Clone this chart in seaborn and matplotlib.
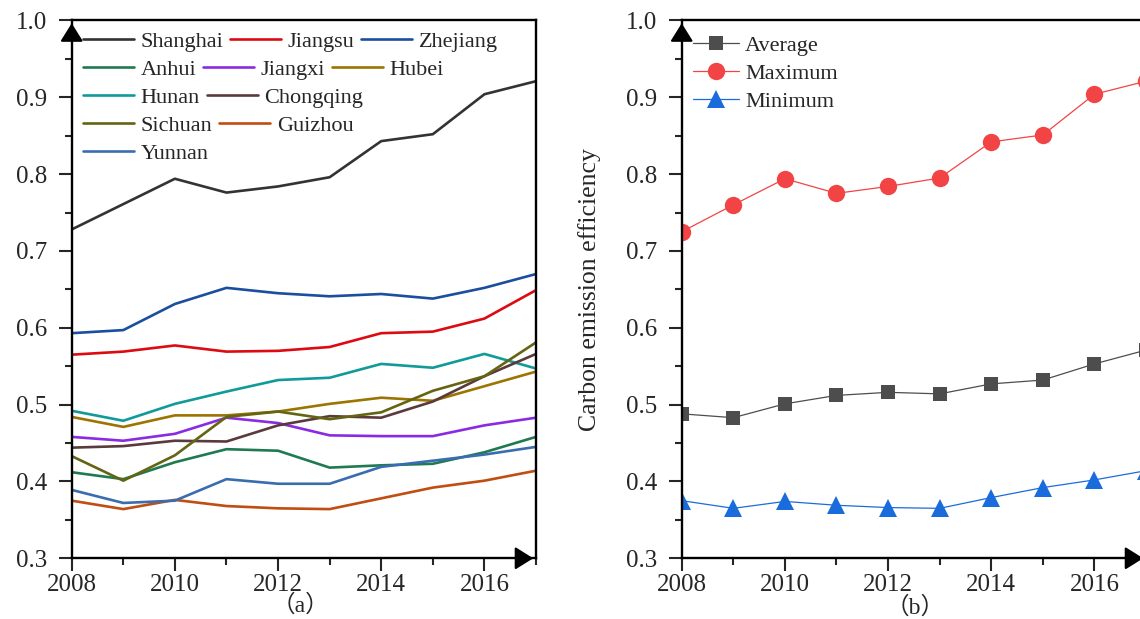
import pandas as pd
import seaborn as sns
import matplotlib.pyplot as plt
from matplotlib.lines import Line2D
from matplotlib.legend import Legend
from matplotlib.ticker import MultipleLocator, FormatStrFormatter

years = list(range(2008, 2018))

provinces = ['Shanghai', 'Jiangsu', 'Zhejiang', 'Anhui', 'Jiangxi', 'Hubei',
             'Hunan', 'Chongqing', 'Sichuan', 'Guizhou', 'Yunnan']

shanghai = [0.728, 0.761, 0.794, 0.776, 0.784, 0.796, 0.843, 0.852, 0.904, 0.921]
jiangsu = [0.565, 0.569, 0.577, 0.569, 0.570, 0.575, 0.593, 0.595, 0.612, 0.649]
zhejiang = [0.593, 0.597, 0.631, 0.652, 0.645, 0.641, 0.644, 0.638, 0.652, 0.670]
anhui = [0.412, 0.403, 0.425, 0.442, 0.440, 0.418, 0.421, 0.423, 0.438, 0.458]
jiangxi = [0.458, 0.453, 0.462, 0.483, 0.476, 0.460, 0.459, 0.459, 0.473, 0.483]
hubei = [0.484, 0.471, 0.486, 0.486, 0.491, 0.501, 0.509, 0.505, 0.524, 0.543]
hunan = [0.492, 0.479, 0.501, 0.517, 0.532, 0.535, 0.553, 0.548, 0.566, 0.547]
chongqing = [0.444, 0.446, 0.453, 0.452, 0.473, 0.485, 0.483, 0.504, 0.537, 0.566]
sichuan = [0.433, 0.401, 0.434, 0.484, 0.491, 0.481, 0.490, 0.518, 0.537, 0.581]
guizhou = [0.375, 0.364, 0.376, 0.368, 0.365, 0.364, 0.378, 0.392, 0.401, 0.414]
yunnan = [0.389, 0.372, 0.375, 0.403, 0.397, 0.397, 0.419, 0.427, 0.435, 0.445]

average = [0.488, 0.483, 0.501, 0.512, 0.516, 0.514, 0.527, 0.532, 0.553, 0.571]
maximum = [0.725, 0.760, 0.794, 0.775, 0.784, 0.795, 0.842, 0.851, 0.904, 0.921]
minimum = [0.375, 0.365, 0.374, 0.369, 0.366, 0.365, 0.379, 0.392, 0.402, 0.414]

colors = ['#333333', '#dd0a12', '#1a4e9e', '#1f7a50', '#8a2be2', '#9c7400',
          '#119a9a', '#5a3a3a', '#646412', '#c04d12', '#3a6db0']

series = [shanghai, jiangsu, zhejiang, anhui, jiangxi, hubei,
          hunan, chongqing, sichuan, guizhou, yunnan]

# legend rows as laid out in the original figure
legend_rows = [['Shanghai', 'Jiangsu', 'Zhejiang'],
               ['Anhui', 'Jiangxi', 'Hubei'],
               ['Hunan', 'Chongqing'],
               ['Sichuan', 'Guizhou'],
               ['Yunnan']]

df = pd.DataFrame({
    'year': years * len(provinces),
    'province': [p for p in provinces for _ in years],
    'value': [v for s in series for v in s],
})

sns.set_style('ticks')
plt.rcParams['font.family'] = ['Liberation Serif', 'Noto Sans CJK SC']
plt.rcParams['axes.linewidth'] = 1.7

fig = plt.figure(figsize=(11.4, 6.19), dpi=100)
ax1 = fig.add_axes([0.0629, 0.0981, 0.4073, 0.8688])
ax2 = fig.add_axes([0.598, 0.0981, 0.4073, 0.8688])

palette = dict(zip(provinces, colors))
sns.lineplot(data=df, x='year', y='value', hue='province', palette=palette,
             hue_order=provinces, linewidth=1.9, legend=False, ax=ax1)

sns.lineplot(x=years, y=average, color='#4d4d4d', marker='s', markersize=10.5,
             markeredgewidth=0, linewidth=0.9, ax=ax2)
sns.lineplot(x=years, y=maximum, color='#f24444', marker='o', markersize=12.5,
             markeredgewidth=0, linewidth=0.9, ax=ax2)
sns.lineplot(x=years, y=minimum, color='#1a6cdc', marker='^', markersize=13.5,
             markeredgewidth=0, linewidth=0.9, ax=ax2)

for ax in (ax1, ax2):
    ax.set_xlim(2008, 2017)
    ax.set_ylim(0.3, 1.0)
    ax.xaxis.set_major_locator(MultipleLocator(2))
    ax.xaxis.set_minor_locator(MultipleLocator(1))
    ax.yaxis.set_major_locator(MultipleLocator(0.1))
    ax.yaxis.set_minor_locator(MultipleLocator(0.05))
    ax.yaxis.set_major_formatter(FormatStrFormatter('%.1f'))
    ax.tick_params(axis='both', which='major', length=9.5, width=1.5, direction='out')
    ax.tick_params(axis='both', which='minor', length=5, width=1.5, direction='out')
    ax.tick_params(axis='y', labelsize=18, pad=8)
    ax.tick_params(axis='x', labelsize=18, pad=2)
    ax.set_xlabel('')
    ax.set_ylabel('')
    for s in ax.spines.values():
        s.set_visible(True)
        s.set_color('black')
    # axis arrows
    ax.annotate('', xy=(0, 1), xytext=(0, 0.96), xycoords='axes fraction',
                arrowprops=dict(arrowstyle='-|>,head_length=0.8,head_width=0.5',
                                color='black', lw=1.5, mutation_scale=14),
                annotation_clip=False)
    ax.annotate('', xy=(1, 0), xytext=(0.96, 0), xycoords='axes fraction',
                arrowprops=dict(arrowstyle='-|>,head_length=0.8,head_width=0.5',
                                color='black', lw=1.5, mutation_scale=14),
                annotation_clip=False)

ax2.set_ylabel('Carbon emission efficiency', fontsize=18.5, labelpad=18)

# left legend, one row at a time
row_step = 28 / (0.8688 * 619)
for i, row in enumerate(legend_rows):
    handles = [Line2D([], [], color=palette[n], lw=1.9) for n in row]
    leg = Legend(ax1, handles, row, ncol=len(row), loc='upper left',
                 bbox_to_anchor=(0.0, 1.0 - i * row_step),
                 frameon=False, fontsize=16, handlelength=2.3,
                 handletextpad=0.3, columnspacing=0.3,
                 borderaxespad=0.3, borderpad=0.2)
    ax1.add_artist(leg)

h2 = [Line2D([], [], color='#4d4d4d', marker='s', ms=10.5, mew=0, lw=0.9),
      Line2D([], [], color='#f24444', marker='o', ms=12.5, mew=0, lw=0.9),
      Line2D([], [], color='#1a6cdc', marker='^', ms=13.5, mew=0, lw=0.9)]
ax2.legend(h2, ['Average', 'Maximum', 'Minimum'], loc='upper left',
           bbox_to_anchor=(0.0, 0.993),
           frameon=False, fontsize=16, handlelength=2.1, handletextpad=0.25,
           labelspacing=0.33, borderaxespad=0.3, borderpad=0.2)

fig.text(300 / 1140, 1 - 606 / 619, '（a）', fontsize=17, ha='center', va='center')
fig.text(915 / 1140, 1 - 608 / 619, '（b）', fontsize=17, ha='center', va='center')

fig.savefig('out.png', dpi=100)
